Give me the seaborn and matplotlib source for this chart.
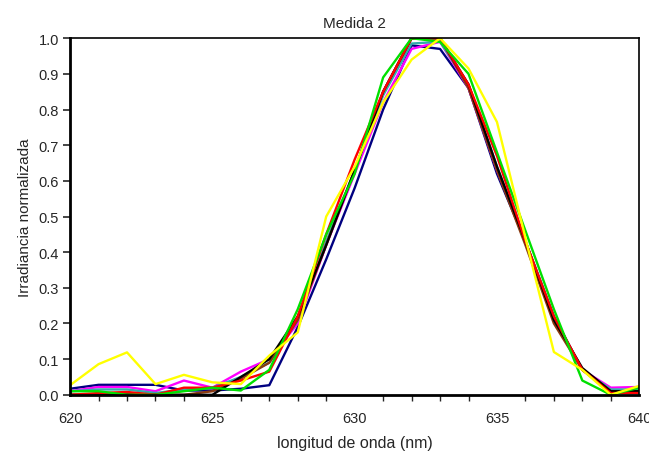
import numpy as np
import pandas as pd
import matplotlib
matplotlib.use("Agg")
import matplotlib.pyplot as plt
import seaborn as sns
from matplotlib.ticker import MultipleLocator

wavelength = list(range(620, 641))

navy    = [0.017, 0.028, 0.028, 0.028, 0.012, 0.012, 0.017, 0.027, 0.19, 0.38, 0.58, 0.80, 0.98, 0.97, 0.86, 0.62, 0.43, 0.22, 0.07, 0.01, 0.012]
magenta = [0.010, 0.022, 0.022, 0.010, 0.040, 0.020, 0.065, 0.10, 0.20, 0.42, 0.62, 0.82, 0.97, 0.99, 0.86, 0.63, 0.43, 0.21, 0.07, 0.02, 0.022]
cyan    = [0.010, 0.015, 0.015, 0.005, 0.015, 0.020, 0.050, 0.09, 0.21, 0.43, 0.63, 0.84, 0.985, 0.99, 0.87, 0.64, 0.43, 0.21, 0.07, 0.015, 0.015]
brown   = [0.000, 0.000, 0.005, 0.000, 0.000, 0.010, 0.045, 0.09, 0.21, 0.42, 0.63, 0.85, 1.00, 1.00, 0.86, 0.63, 0.42, 0.20, 0.07, 0.010, 0.010]
black   = [0.000, 0.000, 0.000, 0.000, 0.000, 0.000, 0.050, 0.10, 0.22, 0.42, 0.63, 0.85, 1.00, 1.00, 0.87, 0.64, 0.43, 0.21, 0.075, 0.010, 0.010]
red     = [0.000, 0.005, 0.008, 0.000, 0.020, 0.020, 0.040, 0.065, 0.22, 0.45, 0.66, 0.85, 1.00, 1.00, 0.87, 0.67, 0.43, 0.22, 0.07, 0.005, 0.005]
green   = [0.010, 0.010, 0.000, 0.000, 0.010, 0.020, 0.012, 0.07, 0.24, 0.45, 0.62, 0.89, 1.00, 0.99, 0.90, 0.68, 0.46, 0.24, 0.04, 0.000, 0.020]
yellow  = [0.027, 0.086, 0.119, 0.030, 0.056, 0.035, 0.030, 0.11, 0.175, 0.50, 0.64, 0.82, 0.94, 1.00, 0.915, 0.765, 0.44, 0.12, 0.07, 0.000, 0.025]

series = {"navy": navy, "magenta": magenta, "cyan": cyan, "brown": brown,
          "black": black, "red": red, "green": green, "yellow": yellow}
colors = {"navy": "#000080", "magenta": "#FF00FF", "cyan": "#33AAAA", "brown": "#8B3A0F",
          "black": "#000000", "red": "#FF0000", "green": "#00E000", "yellow": "#FFFF00"}

df = pd.concat([pd.DataFrame({"x": wavelength, "y": v, "s": k}) for k, v in series.items()])

sns.set_style("white")
plt.rcParams["font.family"] = ["Liberation Sans", "DejaVu Sans"]

fig = plt.figure(figsize=(6.49, 4.56), dpi=100)
ax = fig.add_axes([0.108, 0.132, 0.877, 0.782])
sns.lineplot(data=df, x="x", y="y", hue="s", palette=colors, linewidth=1.7,
             legend=False, ax=ax, sort=False)

ax.set_xlim(620, 640)
ax.set_ylim(0, 1.0)
ax.xaxis.set_major_locator(MultipleLocator(5))
ax.xaxis.set_minor_locator(MultipleLocator(1))
ax.yaxis.set_major_locator(MultipleLocator(0.1))
ax.yaxis.set_major_formatter(matplotlib.ticker.FormatStrFormatter("%.1f"))
ax.tick_params(axis="x", which="major", direction="inout", length=8, width=1.2, labelsize=10.5, pad=8)
ax.tick_params(axis="x", which="minor", direction="out", length=4, width=1.0, bottom=True)
ax.tick_params(axis="y", which="major", direction="out", length=5, width=1.2, labelsize=10.5, left=True, pad=3)
for sp in ax.spines.values():
    sp.set_color("black")
    sp.set_linewidth(1.2)
ax.spines["left"].set_linewidth(2)
ax.spines["bottom"].set_linewidth(2)
ax.set_xlabel("longitud de onda (nm)", fontsize=11.5, labelpad=7)
ax.set_ylabel("Irradiancia normalizada", fontsize=11, labelpad=5)
ax.set_title("Medida 2", fontsize=11, pad=8)

fig.savefig("out.png", dpi=100)
